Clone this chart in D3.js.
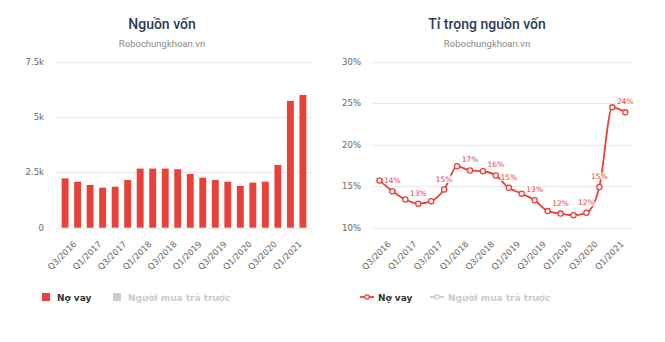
<!DOCTYPE html>
<html lang="vi">
<head>
<meta charset="UTF-8">
<title>Nguồn vốn</title>
<script src="https://d3js.org/d3.v7.min.js"></script>
<style>
    body { margin: 0; background: #fff; }
    svg { display: block; }
    .title { font-family: Roboto, sans-serif; font-weight: 500; fill: #2c3b57; text-anchor: middle; }
    .subtitle { font-family: Roboto, sans-serif; fill: #8a8a8a; text-anchor: middle; }
    .axis-label { font-family: "DejaVu Sans", sans-serif; font-size: 8.5px; fill: #666; }
    .grid { stroke: #e9e9e9; stroke-width: 1; }
    .legend-on { font-family: "DejaVu Sans", sans-serif; font-weight: bold; font-size: 9px; fill: #333; }
    .legend-off { font-family: "DejaVu Sans", sans-serif; font-weight: bold; font-size: 9px; fill: #ccc; }
    .data-label { font-family: "DejaVu Sans", sans-serif; font-size: 7.5px; fill: #e8413a; text-anchor: middle;
                  paint-order: stroke; stroke: #fff; stroke-width: 2px; stroke-linejoin: round; }
</style>
</head>
<body>
<script>
// quarters shown on both charts
const quarters = [
    "Q3/2016", "Q4/2016", "Q1/2017", "Q2/2017", "Q3/2017", "Q4/2017",
    "Q1/2018", "Q2/2018", "Q3/2018", "Q4/2018", "Q1/2019", "Q2/2019",
    "Q3/2019", "Q4/2019", "Q1/2020", "Q2/2020", "Q3/2020", "Q4/2020",
    "Q1/2021", "Q2/2021"
];

// Nợ vay (tỷ đồng)
const loanValues = [2230, 2080, 1930, 1810, 1850, 2155, 2670, 2670, 2670, 2640,
                    2430, 2260, 2155, 2080, 1885, 2035, 2080, 2835, 5730, 6000];

// Nợ vay / tổng nguồn vốn (%)
const loanShare = [15.7, 14.4, 13.4, 12.9, 13.2, 14.6, 17.4, 16.9, 16.8, 16.3,
                   14.8, 14.1, 13.3, 12.0, 11.7, 11.5, 11.8, 14.9, 24.5, 23.9];

// points that carry a value label
const labelledPoints = [1, 3, 5, 7, 9, 10, 12, 14, 16, 17, 19];

const valueTicks = [0, 2500, 5000, 7500];
const shareTicks = [10, 15, 20, 25, 30];
const seriesNames = ["Nợ vay", "Người mua trả trước"];

const red = "#e8413a";
const width = 665, height = 342;

const svg = d3.select("body").append("svg")
    .attr("width", width)
    .attr("height", height);

const plotTop = 61.7, plotBottom = 227.7;

function header(cx, title) {
    svg.append("text").attr("class", "title")
        .attr("x", cx).attr("y", 29).style("font-size", "14px").text(title);
    svg.append("text").attr("class", "subtitle")
        .attr("x", cx).attr("y", 47).style("font-size", "9.5px").text("Robochungkhoan.vn");
}

function xLabels(g, xPos) {
    g.selectAll("text.xl")
        .data(quarters.filter((d, i) => i % 2 === 0))
        .join("text")
        .attr("class", "axis-label xl")
        .attr("text-anchor", "end")
        .attr("transform", d => `translate(${xPos(d) + 12},${plotBottom + 17}) rotate(-45)`)
        .text(d => d);
}

function grid(g, y, ticks, x0, x1, fmt, labelX) {
    g.selectAll("line.grid")
        .data(ticks)
        .join("line")
        .attr("class", "grid")
        .attr("x1", x0).attr("x2", x1)
        .attr("y1", d => Math.round(y(d)) + 0.5)
        .attr("y2", d => Math.round(y(d)) + 0.5);
    g.selectAll("text.yl")
        .data(ticks)
        .join("text")
        .attr("class", "axis-label yl")
        .attr("text-anchor", "end")
        .attr("x", labelX)
        .attr("y", d => y(d) + 3)
        .text(fmt);
}

// ---------- left: bars ----------
header(162, "Nguồn vốn");
const left = svg.append("g");
const xBand = d3.scaleBand().domain(quarters).range([56, 312]).padding(0.45);
const yValue = d3.scaleLinear().domain([0, 7500]).range([plotBottom, plotTop]);

grid(left, yValue, valueTicks, 56, 312,
    d => d === 0 ? "0" : (d / 1000) + "k", 44);

left.selectAll("rect.bar")
    .data(loanValues)
    .join("rect")
    .attr("class", "bar")
    .attr("x", (d, i) => xBand(quarters[i]))
    .attr("width", xBand.bandwidth())
    .attr("y", d => yValue(d))
    .attr("height", d => plotBottom - yValue(d))
    .attr("fill", red);

xLabels(left, d => xBand(d) + xBand.bandwidth() / 2);

// legend
left.append("rect").attr("x", 42).attr("y", 293).attr("width", 8).attr("height", 8).attr("fill", red);
left.append("text").attr("class", "legend-on").attr("x", 57).attr("y", 301).text(seriesNames[0]);
left.append("rect").attr("x", 113).attr("y", 293).attr("width", 8).attr("height", 8).attr("fill", "#ccc");
left.append("text").attr("class", "legend-off").attr("x", 128).attr("y", 301).text(seriesNames[1]);

// ---------- right: spline ----------
header(487, "Tỉ trọng nguồn vốn");
const right = svg.append("g");
const xPoint = d3.scalePoint().domain(quarters).range([373, 631.7]).padding(0.5);
const yShare = d3.scaleLinear().domain([10, 30]).range([plotBottom, plotTop]);

grid(right, yShare, shareTicks, 373, 631.7, d => d + "%", 361);

const line = d3.line()
    .x((d, i) => xPoint(quarters[i]))
    .y(d => yShare(d))
    .curve(d3.curveMonotoneX);

right.append("path")
    .datum(loanShare)
    .attr("d", line)
    .attr("fill", "none")
    .attr("stroke", red)
    .attr("stroke-width", 1.8);

right.selectAll("circle.pt")
    .data(loanShare)
    .join("circle")
    .attr("class", "pt")
    .attr("cx", (d, i) => xPoint(quarters[i]))
    .attr("cy", d => yShare(d))
    .attr("r", 2.6)
    .attr("fill", "#fff")
    .attr("stroke", red)
    .attr("stroke-width", 1.3);

right.selectAll("text.data-label")
    .data(labelledPoints)
    .join("text")
    .attr("class", "data-label")
    .attr("x", i => xPoint(quarters[i]))
    .attr("y", i => yShare(loanShare[i]) - 8)
    .text(i => Math.round(loanShare[i]) + "%");

xLabels(right, d => xPoint(d));

// legend
right.append("line").attr("x1", 360).attr("x2", 374).attr("y1", 297).attr("y2", 297)
    .attr("stroke", red).attr("stroke-width", 1.8);
right.append("circle").attr("cx", 367).attr("cy", 297).attr("r", 2.2)
    .attr("fill", "#fff").attr("stroke", red).attr("stroke-width", 1.2);
right.append("text").attr("class", "legend-on").attr("x", 378).attr("y", 301).text(seriesNames[0]);
right.append("line").attr("x1", 430).attr("x2", 444).attr("y1", 297).attr("y2", 297)
    .attr("stroke", "#ccc").attr("stroke-width", 1.8);
right.append("circle").attr("cx", 437).attr("cy", 297).attr("r", 2.2)
    .attr("fill", "#fff").attr("stroke", "#ccc").attr("stroke-width", 1.2);
right.append("text").attr("class", "legend-off").attr("x", 448).attr("y", 301).text(seriesNames[1]);
</script>
</body>
</html>
